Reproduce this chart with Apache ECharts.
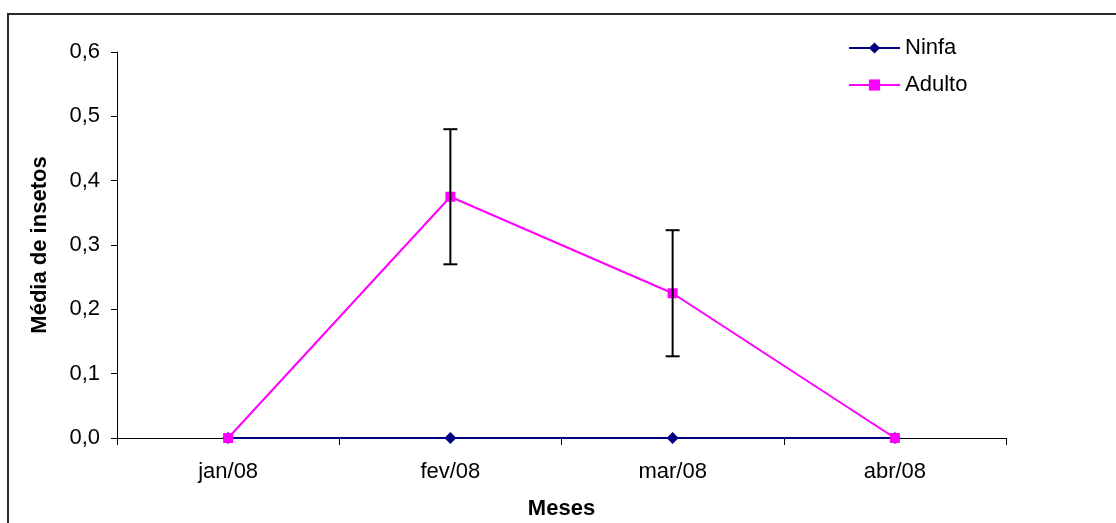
<!DOCTYPE html>
<html><head><meta charset="utf-8">
<script src="https://cdn.jsdelivr.net/npm/echarts@6/dist/echarts.min.js"></script>
<style>html,body{margin:0;padding:0;background:#fff}#c{width:1116px;height:523px}</style>
</head><body><div id="c"></div>
<script>
const categories = ['jan/08','fev/08','mar/08','abr/08'];
const ninfa = [0, 0, 0, 0];
const adulto = [0, 0.375, 0.225, 0];
const adultoErrLow = [null, 0.27, 0.127, null];
const adultoErrHigh = [null, 0.48, 0.323, null];
const yTicks = [0, 0.1, 0.2, 0.3, 0.4, 0.5, 0.6];

const FONT = 'Liberation Sans, Arial, sans-serif';
const errData = categories.map((c, i) => [i, adultoErrLow[i], adultoErrHigh[i]]).filter(d => d[1] != null);

const chart = echarts.init(document.getElementById('c'));
chart.setOption({
  animation: false,
  backgroundColor: '#fff',
  graphic: [{
    type: 'rect', silent: true,
    shape: { x: 8, y: 14, width: 1300, height: 700 },
    style: { fill: 'none', stroke: '#2a2a2a', lineWidth: 2 }
  }],
  grid: { left: 117, right: 110, top: 52, bottom: 85, containLabel: false, outerBoundsMode: 'none' },
  legend: {
    orient: 'vertical', left: 848, top: 37, itemGap: 15, padding: 0,
    itemWidth: 51, itemHeight: 14,
    textStyle: { fontFamily: FONT, fontSize: 22, color: '#000' },
    data: ['Ninfa', 'Adulto']
  },
  xAxis: {
    type: 'category', data: categories, boundaryGap: true,
    name: 'Meses', nameLocation: 'middle', nameGap: 60,
    nameTextStyle: { fontFamily: FONT, fontSize: 22, fontWeight: 'bold', color: '#000' },
    axisLine: { lineStyle: { color: '#000', width: 1 } },
    axisTick: { show: true, length: 7, alignWithLabel: false, lineStyle: { color: '#000' } },
    axisLabel: { fontFamily: FONT, fontSize: 22, color: '#000', margin: 23 },
    splitLine: { show: false }
  },
  yAxis: {
    type: 'value', min: 0, max: 0.6, interval: 0.1,
    name: 'Média de insetos', nameLocation: 'middle', nameGap: 66,
    nameTextStyle: { fontFamily: FONT, fontSize: 22, fontWeight: 'bold', color: '#000' },
    axisLine: { show: true, lineStyle: { color: '#000', width: 1 } },
    axisTick: { show: true, length: 6, lineStyle: { color: '#000' } },
    axisLabel: { fontFamily: FONT, fontSize: 22, color: '#000', margin: 17,
      formatter: v => yTicks.includes(Math.round(v*10)/10) ? v.toFixed(1).replace('.', ',') : '' },
    splitLine: { show: false }
  },
  series: [
    {
      name: 'Ninfa', type: 'line', data: ninfa,
      symbol: 'diamond', symbolSize: 12,
      lineStyle: { color: '#000080', width: 2 },
      itemStyle: { color: '#000080' }, z: 3
    },
    {
      name: 'Adulto', type: 'line', data: adulto,
      symbol: 'rect', symbolSize: 10,
      lineStyle: { color: '#FF00FF', width: 2 },
      itemStyle: { color: '#FF00FF' }, z: 4
    },
    {
      name: 'err', type: 'custom', data: errData, z: 5,
      renderItem: function (params, api) {
        const x = api.value(0);
        const lo = api.coord([x, api.value(1)]);
        const hi = api.coord([x, api.value(2)]);
        const w = 7;
        const st = { stroke: '#000', lineWidth: 2 };
        return { type: 'group', children: [
          { type: 'line', shape: { x1: lo[0], y1: lo[1], x2: hi[0], y2: hi[1] }, style: st },
          { type: 'line', shape: { x1: lo[0]-w, y1: lo[1], x2: lo[0]+w, y2: lo[1] }, style: st },
          { type: 'line', shape: { x1: hi[0]-w, y1: hi[1], x2: hi[0]+w, y2: hi[1] }, style: st }
        ]};
      }
    }
  ]
});
</script>
</body></html>
